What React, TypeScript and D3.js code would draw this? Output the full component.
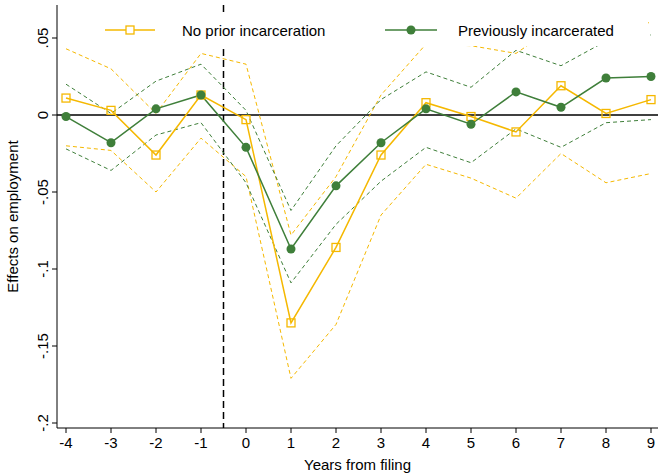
import React from "react";
import * as d3 from "d3";

const years = [-4,-3,-2,-1,0,1,2,3,4,5,6,7,8,9];
const noPrior = [0.011,0.003,-0.026,0.013,-0.003,-0.135,-0.086,-0.026,0.008,-0.001,-0.011,0.019,0.001,0.010];
const noPriorHi = [0.043,0.030,0.001,0.040,0.033,-0.078,-0.040,0.013,0.046,0.045,0.040,0.060,0.058,0.060];
const noPriorLo = [-0.020,-0.023,-0.050,-0.015,-0.040,-0.171,-0.136,-0.065,-0.032,-0.041,-0.054,-0.025,-0.044,-0.038];
const prev = [-0.001,-0.018,0.004,0.013,-0.021,-0.087,-0.046,-0.018,0.004,-0.006,0.015,0.005,0.024,0.025];
const prevHi = [0.020,0.001,0.022,0.033,0.003,-0.062,-0.020,0.010,0.028,0.018,0.042,0.032,0.048,0.052];
const prevLo = [-0.022,-0.036,-0.013,-0.005,-0.044,-0.109,-0.071,-0.043,-0.021,-0.031,-0.009,-0.021,-0.005,-0.003];
const yTicks = [0.05,0,-0.05,-0.1,-0.15,-0.2];
const yLabels = [".05","0","-.05","-.1","-.15","-.2"];

const Y = "#f5b800";
const G = "#3f7f3a";

export default function App() {
  const W = 658, H = 476;
  const L = 57, R = 658, T = 5, B = 428;
  const x = d3.scaleLinear().domain([-4, 9]).range([66, 651]);
  const y = d3.scaleLinear().domain([0, 0.05]).range([115, 38]);
  const line = (vals: number[]) =>
    d3.line<number>().x((_, i) => x(years[i])).y(v => y(v))(vals) || "";
  return (
    <svg width={W} height={H} style={{ position: "absolute", left: 0, top: 0, fontFamily: "Liberation Sans, Arial, sans-serif" }}>
      <rect width={W} height={H} fill="#fff" />
      <defs><clipPath id="c"><rect x={L} y={T} width={R - L} height={B - T} /></clipPath></defs>
      <line x1={L} x2={L} y1={T} y2={B} stroke="#000" />
      <line x1={L} x2={R} y1={B} y2={B} stroke="#000" />
      {yTicks.map((t, i) => (
        <g key={i}>
          <line x1={L - 5} x2={L} y1={y(t)} y2={y(t)} stroke="#000" />
          <text transform={`translate(${L - 9},${y(t)}) rotate(-90)`} textAnchor="middle" fontSize={15}>{yLabels[i]}</text>
        </g>
      ))}
      {years.map(t => (
        <g key={t}>
          <line x1={x(t)} x2={x(t)} y1={B} y2={B + 5} stroke="#000" />
          <text x={x(t)} y={B + 20} textAnchor="middle" fontSize={15}>{t}</text>
        </g>
      ))}
      <text x={(L + R) / 2} y={470} textAnchor="middle" fontSize={15}>Years from filing</text>
      <text transform={`translate(18,${(T + B) / 2}) rotate(-90)`} textAnchor="middle" fontSize={15}>Effects on employment</text>
      <g clipPath="url(#c)">
        <line x1={L} x2={R} y1={y(0)} y2={y(0)} stroke="#000" strokeWidth={1.3} />
        <line x1={x(-0.5)} x2={x(-0.5)} y1={T} y2={B} stroke="#000" strokeWidth={1.5} strokeDasharray="7,4" />
        {[noPriorHi, noPriorLo].map((d, i) => <path key={"y" + i} d={line(d)} fill="none" stroke={Y} strokeWidth={1} strokeDasharray="4,3" />)}
        {[prevHi, prevLo].map((d, i) => <path key={"g" + i} d={line(d)} fill="none" stroke={G} strokeWidth={1} strokeDasharray="4,3" />)}
        <path d={line(noPrior)} fill="none" stroke={Y} strokeWidth={1.5} />
        <path d={line(prev)} fill="none" stroke={G} strokeWidth={1.5} />
        {noPrior.map((v, i) => <rect key={i} x={x(years[i]) - 4} y={y(v) - 4} width={8} height={8} fill="none" stroke={Y} strokeWidth={1.3} />)}
        {prev.map((v, i) => <circle key={i} cx={x(years[i])} cy={y(v)} r={4.5} fill={G} />)}
      </g>
      <rect x={92} y={12} width={556} height={34} fill="#fff" />
      <line x1={105} x2={155} y1={30} y2={30} stroke={Y} strokeWidth={1.5} />
      <rect x={126} y={26} width={8} height={8} fill="#fff" stroke={Y} strokeWidth={1.3} />
      <text x={182} y={36} fontSize={15}>No prior incarceration</text>
      <line x1={385} x2={437} y1={30} y2={30} stroke={G} strokeWidth={1.5} />
      <circle cx={411} cy={30} r={4.5} fill={G} />
      <text x={458} y={36} fontSize={15}>Previously incarcerated</text>
    </svg>
  );
}
